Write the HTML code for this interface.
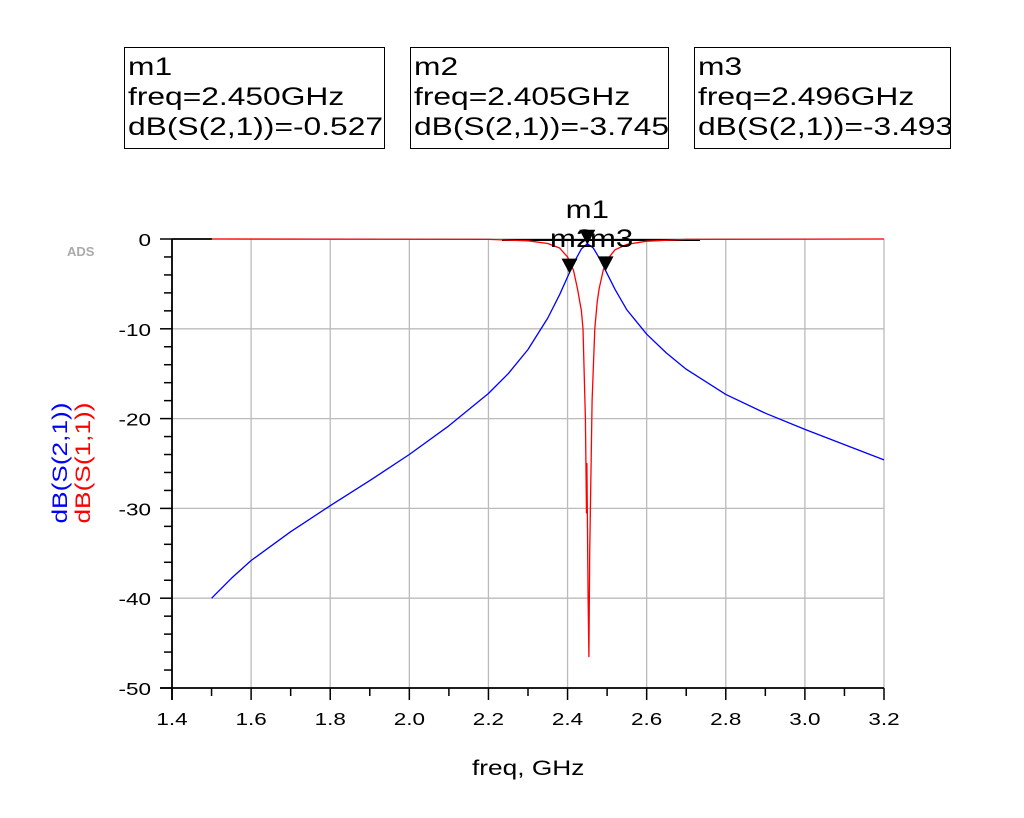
<!DOCTYPE html>
<html><head><meta charset="utf-8"><style>
body{margin:0;background:#fff;width:1024px;height:818px;overflow:hidden;font-family:"Liberation Sans",Arial,sans-serif}
.box{position:absolute;top:47px;height:102px;border:1.5px solid #000;box-sizing:border-box;overflow:hidden}
.box div{position:absolute;left:3px;top:4px;font-size:25px;line-height:30px;white-space:nowrap;transform:scaleX(1.27);transform-origin:0 0}
</style></head><body>
<div class="box" style="left:124px;width:261px"><div>m1<br>freq=2.450GHz<br>dB(S(2,1))=-0.527</div></div>
<div class="box" style="left:410px;width:259px"><div>m2<br>freq=2.405GHz<br>dB(S(2,1))=-3.745</div></div>
<div class="box" style="left:694px;width:257px"><div>m3<br>freq=2.496GHz<br>dB(S(2,1))=-3.493</div></div>
<svg id="chart" width="1024" height="818" style="position:absolute;left:0;top:0" font-family="Liberation Sans, Arial, sans-serif"></svg>
<script>
const xTicks=[1.4,1.6,1.8,2.0,2.2,2.4,2.6,2.8,3.0,3.2];
const yTicks=[0,-10,-20,-30,-40,-50];
const s21Freq=[1.5,1.55,1.6,1.7,1.8,1.9,2.0,2.1,2.2,2.25,2.3,2.35,2.38,2.405,2.42,2.435,2.45,2.465,2.48,2.496,2.52,2.55,2.6,2.65,2.7,2.8,2.9,3.0,3.1,3.2];
const s21dB=[-40,-37.8,-35.8,-32.6,-29.7,-26.9,-24,-20.8,-17.2,-15,-12.3,-8.8,-6.2,-3.745,-2.3,-1.1,-0.527,-1.0,-2.1,-3.493,-5.6,-7.9,-10.6,-12.7,-14.5,-17.3,-19.4,-21.2,-22.9,-24.6];
const s11Freq=[1.5,2.2,2.3,2.35,2.38,2.4,2.415,2.425,2.435,2.439,2.445,2.448,2.449,2.452,2.454,2.456,2.462,2.469,2.475,2.48,2.49,2.5,2.52,2.55,2.6,2.7,3.2];
const s11dB=[0,-0.05,-0.2,-0.5,-1.0,-2.0,-3.5,-5.5,-8,-10,-20,-30.5,-25,-40,-46.5,-35,-18,-10,-7,-5.5,-3.5,-2.3,-1.2,-0.6,-0.25,-0.05,0];
const markerNames=["m1","m2","m3"];
const markerFreq=[2.450,2.405,2.496];
const markerdB=[-0.527,-3.745,-3.493];

const svg=document.getElementById('chart');const NS='http://www.w3.org/2000/svg';
const X0=172,X1=884,Y0=239,Y1=688,SX=1.25;
const xs=f=>X0+(f-1.4)/(3.2-1.4)*(X1-X0);
const ys=d=>Y0+(0-d)/50*(Y1-Y0);
function el(t,a,p){const e=document.createElementNS(NS,t);for(const k in a)e.setAttribute(k,a[k]);(p||svg).appendChild(e);return e;}
function txt(x,y,s,size,anchor){const t=el('text',{x:0,y:0,'font-size':size,'text-anchor':anchor,fill:'#000',transform:`translate(${x},${y}) scale(${SX},1)`});t.textContent=s;return t;}
xTicks.forEach(t=>{const l=el('line',{x1:xs(t),x2:xs(t),y1:Y0,y2:Y1,stroke:'#bbb','stroke-width':1.3});


const tx=txt(xs(t),725,t.toFixed(1),18,'middle');


el('line',{x1:xs(t),x2:xs(t),y1:Y1,y2:Y1+12,stroke:'#000','stroke-width':1.5});
if(t<3.2)el('line',{x1:xs(t+0.1),x2:xs(t+0.1),y1:Y1,y2:Y1+8,stroke:'#000','stroke-width':1.5});});
yTicks.forEach(t=>{const l=el('line',{x1:X0,x2:X1,y1:ys(t),y2:ys(t),stroke:'#bbb','stroke-width':1.3});


const tx=txt(151,ys(t)+7,String(t),18,'end');


el('line',{x1:X0-12,x2:X0,y1:ys(t),y2:ys(t),stroke:'#000','stroke-width':1.5});
if(t>-50)for(let k=1;k<5;k++)el('line',{x1:X0-8,x2:X0,y1:ys(t-2*k),y2:ys(t-2*k),stroke:'#000','stroke-width':1.5});});
el('line',{x1:X0,x2:X0,y1:Y0,y2:Y1+12,stroke:'#000','stroke-width':1.8});
el('line',{x1:X0-12,x2:X1,y1:Y1,y2:Y1,stroke:'#000','stroke-width':1.8});
el('line',{x1:X0,x2:212,y1:Y0,y2:Y0,stroke:'#000','stroke-width':1.8});
el('line',{x1:502,x2:700,y1:Y0+1,y2:Y0+1,stroke:'#000','stroke-width':2});
function path(fr,db,col,name){const d=fr.map((f,i)=>(i?'L':'M')+xs(f).toFixed(1)+','+ys(db[i]).toFixed(1)).join('');
const p=el('path',{d:d,fill:'none',stroke:col,'stroke-width':1.3,'stroke-linejoin':'round'});

}
path(s11Freq,s11dB,'#f00','s11-trace');
path(s21Freq,s21dB,'#00f','s21-trace');
const lblOff=[[0,-21],[2,8],[6,8]];
markerNames.forEach((n,i)=>{const x=xs(markerFreq[i]),y=ys(markerdB[i]);
const tr=el('path',{d:`M${x-8},${y-14}L${x+8},${y-14}L${x},${y+1}Z`,fill:'#000'});


const tx=txt(x+lblOff[i][0],Y0+lblOff[i][1],n,25,'middle');

});
</script>
<div style="position:absolute;left:67px;top:244px;font-size:13px;color:#aaa;font-weight:bold">ADS</div>
<div style="position:absolute;left:472px;top:757px;font-size:21px;transform:scaleX(1.25);transform-origin:0 0;white-space:nowrap">freq, GHz</div>
<div style="position:absolute;left:72px;top:463px;transform:translate(-50%,-50%) rotate(-90deg) scaleX(1.25);font-size:21px;white-space:nowrap;line-height:23px;text-align:center"><span style="color:#00f">dB(S(2,1))</span><br><span style="color:#f00">dB(S(1,1))</span></div>
</body></html>
